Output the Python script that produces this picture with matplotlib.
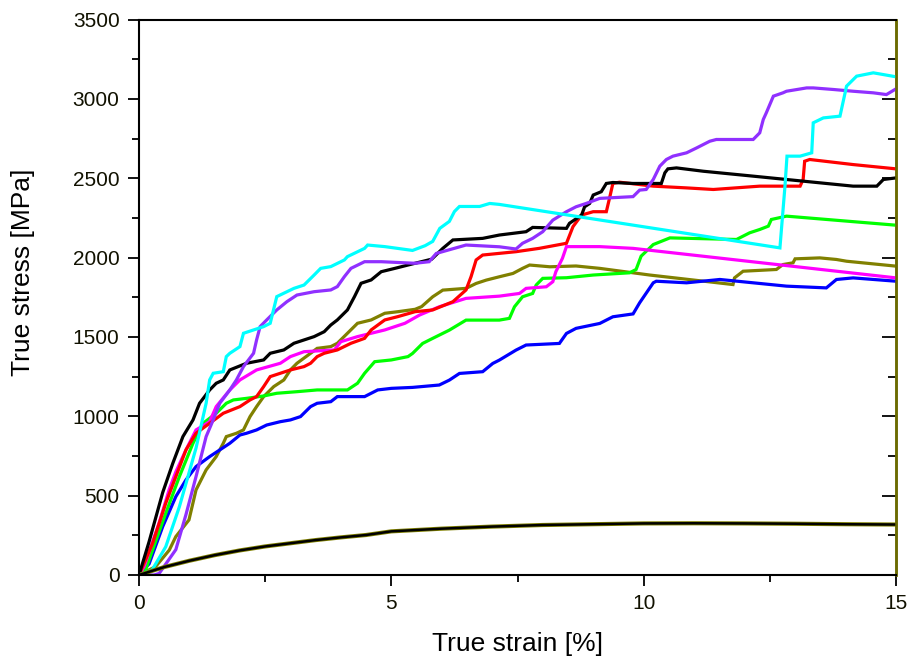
import matplotlib
matplotlib.use("Agg")
import matplotlib.pyplot as plt
from matplotlib.ticker import MultipleLocator

plt.rcParams['font.family'] = ['Liberation Sans', 'DejaVu Sans']

# ---- data (true strain [%], true stress [MPa]) ----
black_x = [0, 0.2, 0.47, 0.67, 0.87, 1.07, 1.2, 1.4, 1.53, 1.67, 1.8, 2.13, 2.47, 2.6, 2.87, 3.07, 3.47, 3.67, 3.8, 3.93,
           4.13, 4.27, 4.4, 4.6, 4.8, 5.07, 5.33, 5.8, 6.02, 6.22, 6.81, 7.14, 7.67, 7.8, 8.47, 8.53, 8.77, 8.83, 8.93, 9.0,
           9.16, 9.26, 9.39, 9.79, 10.35, 10.42, 10.48, 10.65, 11.18, 12.17, 12.83, 14.15, 14.62, 14.75, 15]
black_y = [0, 210, 520, 704, 872, 977, 1082, 1166, 1208, 1229, 1292, 1334, 1355, 1397, 1418, 1460, 1502, 1533, 1575, 1607,
           1670, 1754, 1838, 1859, 1911, 1932, 1953, 1990, 2058, 2111, 2121, 2142, 2163, 2190, 2184, 2216, 2268, 2320, 2341, 2394,
           2415, 2467, 2473, 2467, 2467, 2534, 2559, 2565, 2544, 2513, 2492, 2450, 2450, 2492, 2502]

red_x = [0, 0.27, 0.53, 0.73, 0.93, 1.13, 1.4, 1.67, 2.0, 2.2, 2.33, 2.47, 2.6, 3.0, 3.27, 3.4, 3.53, 3.67, 3.93, 4.2,
         4.47, 4.6, 4.87, 5.13, 5.47, 5.82, 6.22, 6.48, 6.58, 6.68, 6.81, 7.47, 7.93, 8.47, 8.6, 8.77, 9.0, 9.26, 9.33, 9.39,
         9.52, 10.19, 10.85, 11.38, 12.3, 13.1, 13.16, 13.19, 13.29, 14.15, 15]
red_y = [0, 200, 452, 620, 788, 893, 956, 1019, 1061, 1103, 1124, 1187, 1250, 1292, 1313, 1334, 1376, 1397, 1418, 1460,
         1491, 1544, 1607, 1628, 1659, 1670, 1722, 1796, 1880, 1985, 2016, 2037, 2058, 2090, 2195, 2268, 2289, 2289, 2383, 2467,
         2475, 2450, 2439, 2429, 2450, 2450, 2492, 2607, 2618, 2586, 2559]

magenta_x = [0, 0.1, 0.4, 0.6, 0.73, 0.93, 1.13, 1.4, 1.53, 1.8, 2.0, 2.33, 2.8, 3.0, 3.27, 3.87, 4.0, 4.33, 4.87, 5.27,
             5.56, 5.95, 6.48, 7.14, 7.54, 7.67, 8.07, 8.2, 8.26, 8.39, 8.47, 9.13, 9.79, 15]
magenta_y = [0, 53, 330, 540, 650, 788, 914, 966, 1061, 1166, 1229, 1292, 1334, 1376, 1407, 1418, 1470, 1502, 1544, 1586,
             1638, 1690, 1743, 1757, 1774, 1806, 1816, 1848, 1911, 1995, 2069, 2069, 2058, 1872]

green_x = [0, 0.13, 0.27, 0.53, 0.8, 1.07, 1.27, 1.53, 1.73, 1.87, 2.13, 2.47, 2.73, 3.13, 3.53, 4.13, 4.33, 4.47, 4.67, 5.0,
           5.33, 5.42, 5.62, 5.82, 6.15, 6.48, 7.14, 7.34, 7.44, 7.6, 7.8, 7.87, 8.0, 8.47, 9.0, 9.72, 9.85, 9.95, 10.19, 10.52,
           11.84, 12.1, 12.3, 12.47, 12.53, 12.83, 15]
green_y = [0, 32, 158, 389, 620, 830, 956, 1019, 1082, 1103, 1113, 1128, 1145, 1155, 1166, 1166, 1208, 1271, 1344, 1355,
           1376, 1396, 1459, 1491, 1543, 1606, 1606, 1617, 1690, 1753, 1774, 1827, 1869, 1873, 1890, 1904, 1925, 2009, 2082, 2124,
           2114, 2156, 2177, 2198, 2240, 2261, 2204]

blue_x = [0, 0.2, 0.47, 0.73, 0.93, 1.13, 1.4, 1.6, 1.8, 2.0, 2.13, 2.33, 2.53, 2.8, 3.0, 3.2, 3.4, 3.53, 3.8, 3.93,
          4.47, 4.73, 5.0, 5.42, 5.95, 6.15, 6.35, 6.81, 7.01, 7.14, 7.47, 7.67, 8.33, 8.47, 8.66, 9.13, 9.39, 9.79, 9.92, 10.19,
          10.25, 10.85, 11.51, 12.17, 12.83, 13.62, 13.82, 14.15, 15]
blue_y = [0, 70, 305, 494, 599, 683, 746, 788, 830, 882, 893, 914, 945, 966, 977, 998, 1061, 1082, 1092, 1124,
          1124, 1166, 1176, 1182, 1197, 1228, 1270, 1281, 1333, 1354, 1417, 1449, 1459, 1522, 1554, 1585, 1627, 1645, 1715, 1841,
          1851, 1841, 1862, 1841, 1820, 1809, 1862, 1872, 1851]

cyan_x = [0, 0.26, 0.53, 0.8, 1.13, 1.33, 1.4, 1.47, 1.67, 1.73, 1.8, 2.0, 2.07, 2.47, 2.6, 2.73, 3.07, 3.27, 3.47, 3.6,
          3.8, 4.07, 4.13, 4.47, 4.53, 4.87, 5.42, 5.67, 5.82, 5.96, 6.15, 6.25, 6.35, 6.75, 6.95, 7.14, 12.7, 12.8, 12.84, 13.1,
          13.33, 13.36, 13.56, 13.89, 14.02, 14.22, 14.55, 14.75, 15]
cyan_y = [0, 32, 178, 430, 800, 1082, 1229, 1271, 1281, 1376, 1397, 1439, 1523, 1565, 1586, 1754, 1806, 1827, 1890, 1932,
          1943, 1985, 2006, 2058, 2079, 2069, 2045, 2075, 2102, 2184, 2228, 2290, 2322, 2322, 2341, 2335, 2061, 2450, 2639, 2639,
          2660, 2849, 2880, 2891, 3080, 3143, 3164, 3153, 3139]

purple_x = [0, 0.3, 0.4, 0.73, 0.93, 1.13, 1.33, 1.47, 1.6, 1.8, 1.93, 2.07, 2.27, 2.33, 2.4, 2.53, 2.73, 2.93, 3.13, 3.47,
            3.8, 3.93, 4.07, 4.2, 4.47, 4.8, 5.47, 5.75, 5.89, 6.48, 7.14, 7.47, 7.6, 7.8, 8.0, 8.2, 8.47, 8.66, 8.86, 9.13,
            9.79, 9.92, 10.05, 10.19, 10.32, 10.45, 10.58, 10.85, 11.05, 11.31, 11.44, 12.17, 12.3, 12.37, 12.43, 12.57, 12.76,
            12.83, 13.23, 13.36, 13.76, 14.15, 14.55, 14.81, 15]
purple_y = [0, 0, 10, 160, 380, 620, 872, 977, 1082, 1166, 1229, 1313, 1397, 1481, 1565, 1607, 1670, 1722, 1764, 1785,
            1796, 1817, 1880, 1932, 1974, 1974, 1964, 1974, 2026, 2079, 2068, 2054, 2090, 2121, 2163, 2236, 2289, 2320, 2341, 2373,
            2384, 2425, 2429, 2492, 2576, 2618, 2639, 2660, 2691, 2733, 2744, 2744, 2786, 2870, 2912, 3017, 3038,
            3048, 3069, 3069, 3059, 3048, 3038, 3027, 3063]

olive_x = [0, 0.33, 0.6, 0.73, 0.99, 1.13, 1.33, 1.53, 1.67, 1.73, 1.93, 2.07, 2.2, 2.33, 2.47, 2.67, 2.87, 3.0, 3.13, 3.4,
           3.53, 3.8, 3.93, 4.13, 4.33, 4.6, 4.87, 5.13, 5.47, 5.6, 5.82, 6.02, 6.48, 6.68, 6.88, 7.14, 7.41, 7.6, 7.74, 8.14,
           8.66, 9.13, 10.12, 11.77, 11.8, 11.97, 12.63, 12.76, 12.96, 13.0, 13.49, 13.82, 14.02, 15]
olive_y = [0, 53, 157, 242, 347, 536, 662, 746, 830, 872, 893, 914, 998, 1061, 1124, 1187, 1229, 1292, 1334, 1397,
           1428, 1439, 1460, 1523, 1586, 1607, 1649, 1659, 1674, 1691, 1753, 1795, 1806, 1837, 1858, 1879, 1900, 1932, 1953, 1942,
           1947, 1932, 1890, 1830, 1872, 1914, 1925, 1956, 1967, 1992, 1998, 1988, 1977, 1946]

ref_x = [0, 0.5, 1, 1.5, 2, 2.5, 3, 3.5, 4, 4.5, 5, 6, 7, 8, 9, 10, 11, 12, 13, 14, 15]
ref_y = [0, 50, 90, 125, 155, 180, 200, 220, 237, 252, 275, 292, 305, 315, 320, 325, 326, 325, 323, 320, 318]

series = [
    (olive_x, olive_y, '#808000'),
    (blue_x, blue_y, '#0000ff'),
    (green_x, green_y, '#00ff00'),
    (magenta_x, magenta_y, '#ff00ff'),
    (red_x, red_y, '#ff0000'),
    (black_x, black_y, '#000000'),
    (purple_x, purple_y, '#9030ff'),
    (cyan_x, cyan_y, '#00ffff'),
]

fig = plt.figure(figsize=(9.08, 6.63), dpi=100)
ax = fig.add_axes([139 / 908, 1 - 575 / 663, 757 / 908, 555.5 / 663])

for xs, ys, c in series:
    ax.plot(xs, ys, color=c, lw=2.3, solid_joinstyle='miter')

ax.plot(ref_x, ref_y, color='#808000', lw=3.0)
ax.plot(ref_x, ref_y, color='#000000', lw=1.8)

ax.set_xlim(0, 15)
ax.set_ylim(0, 3500)
ax.xaxis.set_major_locator(MultipleLocator(5))
ax.xaxis.set_minor_locator(MultipleLocator(2.5))
ax.yaxis.set_major_locator(MultipleLocator(500))
ax.yaxis.set_minor_locator(MultipleLocator(250))

ax.tick_params(which='both', direction='out', top=False, right=False, labelsize=15, width=1.3, color='#000000',
               labelcolor='#111100')
ax.tick_params(which='major', length=8)
ax.tick_params(which='minor', length=5)
ax.tick_params(axis='x', pad=6)
ax.tick_params(axis='y', pad=6)

for s in ['left', 'bottom', 'top']:
    ax.spines[s].set_linewidth(1.5)
    ax.spines[s].set_color('#000000')
ax.spines['right'].set_linewidth(1.8)
ax.spines['right'].set_color('#6b6b00')

sec = ax.secondary_yaxis('right')
sec.yaxis.set_major_locator(MultipleLocator(500))
sec.yaxis.set_minor_locator(MultipleLocator(250))
sec.tick_params(which='both', direction='in', labelright=False, width=1.3, color='#000000')
sec.tick_params(which='major', length=10)
sec.tick_params(which='minor', length=6)
sec.spines['right'].set_linewidth(1.8)
sec.spines['right'].set_color('#6b6b00')

ax.set_xlabel('True strain [%]', fontsize=19)
ax.xaxis.set_label_coords(0.5, -0.102)
ax.set_ylabel('True stress [MPa]', fontsize=19)
ax.yaxis.set_label_coords(-0.137, 0.544)

fig.savefig('out.png', dpi=100)
